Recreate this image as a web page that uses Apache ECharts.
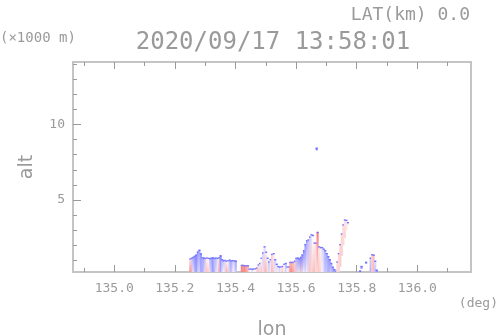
<!DOCTYPE html>
<html>
<head>
<meta charset="utf-8">
<script src="https://cdn.jsdelivr.net/npm/echarts@6/dist/echarts.min.js"></script>
<style>
  html, body { margin: 0; padding: 0; background: #fff; }
  #chart { width: 498px; height: 336px; }
</style>
</head>
<body>
<div id="chart"></div>
<script>
// ---------- DATA ----------
// vertical section columns, one every lonStep degrees starting at lonStart
var lonStart = 135.25;
var lonStep = 0.005;

// top of echo in each column (x1000 m), null = no echo
var colTop = [
	1.15, 1.19, 1.25, 1.32, 1.40, 1.60, 1.72, 1.48, 1.22, 1.20,
	1.18, 1.21, 1.19, 1.17, 1.20, 1.22, 1.18, 1.20, 1.19, 1.22,
	1.35, 1.10, 1.03, 1.05, 1.00, 1.03, 1.06, 1.02, 1.04, 1.03,
	1.00, null, null, null, 0.72, 0.72, 0.70, 0.70, 0.70, 0.48,
	0.48, 0.47, 0.48, 0.50, 0.55, 0.75, 0.85, 1.20, 1.55, 1.95,
	1.60, 1.20, 0.95, 1.10, 1.45, 1.50, 1.10, 0.80, 0.65, 0.62,
	0.62, 0.66, 0.80, 0.85, 0.62, 0.62, 0.92, 0.92, 0.92, 1.00,
	1.19, 1.20, 1.15, 1.25, 1.40, 1.70, 2.10, 2.35, 2.40, 2.60,
	2.75, 2.70, 2.20, 2.20, 2.90, 1.95, 1.90, 1.90, 1.80, 1.70,
	1.50, 1.30, 1.10, 0.85, 0.60, 0.45, 0.35, 0.95, 1.50, 2.10,
	2.80, 3.40, 3.72, 3.70, 3.55, null, null, null, null, null,
	null, null, 0.35, 0.65, null, null, 0.92, null, null, 1.20,
	1.43, 1.40, 1.00, 0.40
];
// bottom of echo in each column (x1000 m)
var colBase = [
	0, 0, 0, 0, 0, 0, 0, 0, 0, 0,
	0, 0, 0, 0, 0, 0, 0, 0, 0, 0,
	0, 0, 0, 0, 0, 0, 0, 0, 0, 0,
	0, 0, 0, 0, 0, 0, 0, 0, 0, 0,
	0, 0, 0, 0, 0, 0, 0, 0, 0, 0,
	0, 0, 0, 0, 0, 0, 0, 0, 0, 0,
	0, 0, 0, 0, 0, 0, 0, 0, 0, 0,
	0, 0, 0, 0, 0, 0, 0, 0, 0, 0,
	0, 0, 0, 0, 0, 0, 0, 0, 0, 0,
	0, 0, 0, 0, 0, 0, 0, 0, 0, 0.6,
	1.3, 2.0, 2.5, 3.0, 3.3, 0, 0, 0, 0, 0,
	0, 0, 0, 0.45, 0, 0, 0.8, 0, 0, 0,
	0, 0, 0, 0
];
// doppler value near the ground (-1 approaching/blue .. +1 receding/red)
var colLow = [
	0.9, 0.6, 0.1, -0.4, -0.6, -0.3, -0.2, -0.5, -0.6, -0.3,
	0.3, 0.5, 0.4, 0.2, -0.4, -0.6, -0.5, -0.2, 0.2, 0.6,
	-0.5, -0.3, 0.0, 0.2, 0.7, 0.5, -0.2, -0.4, -0.1, 0.1,
	-0.3, 0, 0, 0, 0.9, 0.8, 0.85, 0.7, 0.6, 0.3,
	0.2, -0.2, 0.1, 0.2, 0.4, 0.6, 0.3, 0.5, 0.2, 0.4,
	0.6, 0.3, -0.2, 0.2, 0.5, 0.4, -0.1, 0.2, 0.1, -0.2,
	0.3, 0.5, 0.2, -0.3, 0.0, 0.3, 0.9, 0.85, 0.7, 0.5,
	0.3, 0.2, 0.1, 0.3, 0.2, 0.0, -0.2, 0.1, 0.3, 0.4,
	0.3, 0.4, 0.5, 0.3, 0.2, 0.4, 0.3, 0.1, -0.2, -0.4,
	-0.3, -0.5, -0.4, -0.3, -0.5, -0.6, 0.2, 0.3, 0.3, 0.35,
	0.3, 0.25, 0.3, 0.2, 0.1, 0, 0, 0, 0, 0,
	0, 0, -0.8, -0.7, 0, 0, -0.8, 0, 0, -0.6,
	0.4, 0.5, -0.5, -0.7
];
// doppler value near the echo top
var colHigh = [
	0.2, -0.3, -0.6, -0.7, -0.8, -0.7, -0.6, -0.7, -0.5, -0.6,
	-0.3, 0.1, 0.0, -0.4, -0.6, -0.7, -0.4, -0.5, -0.2, 0.2,
	-0.8, -0.5, -0.4, -0.3, 0.1, 0.0, -0.5, -0.6, -0.4, -0.3,
	-0.6, 0, 0, 0, 0.8, 0.7, 0.75, 0.6, 0.5, 0.1,
	0.0, -0.3, -0.1, 0.0, 0.2, 0.1, -0.2, 0.0, -0.3, -0.2,
	0.1, -0.1, -0.4, -0.2, 0.3, 0.1, -0.3, -0.2, -0.2, -0.3,
	0.1, 0.2, 0.0, -0.4, -0.2, 0.1, 0.5, 0.5, 0.4, 0.3,
	-0.5, -0.6, -0.7, -0.8, -0.8, -0.8, -0.7, -0.6, -0.4, -0.3,
	-0.2, 0.0, 0.1, 0.2, 0.9, 0.2, 0.1, -0.2, -0.3, -0.5,
	-0.6, -0.6, -0.7, -0.6, -0.6, -0.7, 0.1, 0.2, 0.25, 0.3,
	0.3, 0.25, 0.2, 0.15, 0.1, 0, 0, 0, 0, 0,
	0, 0, -0.8, -0.7, 0, 0, -0.8, 0, 0, -0.3,
	0.3, 0.4, -0.2, -0.7
];

// isolated echo aloft
var spotLon = [135.667];
var spotBase = [8.28];
var spotTop = [8.46];
var spotVal = [-0.8];

// axis ticks
var lonTicks = [135.0, 135.2, 135.4, 135.6, 135.8, 136.0];
var lonMinorTicks = [134.9, 135.1, 135.3, 135.5, 135.7, 135.9, 136.1];
var altTicks = [5, 10];
var altMinorTicks = [1, 2, 3, 4, 6, 7, 8, 9, 11, 12, 13, 14];

// ---------- CHART ----------
var chart = echarts.init(document.getElementById('chart'));

var LON_MIN = 134.864, LON_MAX = 136.177;
var ALT_MIN = 0.245, ALT_MAX = 14.12;
var textGrey = '#9a9a9a';
var frameGrey = '#c4c4c4';
var tickGrey = '#9a9a9a';
var monoFont = '"DejaVu Sans Mono", "Liberation Mono", monospace';

function velColor(v) {
	var blue = [104, 104, 255], red = [246, 108, 108];
	var t = Math.min(1, Math.abs(v));
	var c = v < 0 ? blue : red;
	var r = Math.round(255 + (c[0] - 255) * t);
	var g = Math.round(255 + (c[1] - 255) * t);
	var b = Math.round(255 + (c[2] - 255) * t);
	return 'rgb(' + r + ',' + g + ',' + b + ')';
}

var columnData = [];
colTop.forEach(function (top, i) {
	if (top === null) return;
	columnData.push([lonStart + i * lonStep, colBase[i], top, colLow[i], colHigh[i]]);
});
var spotData = spotLon.map(function (lon, i) {
	return [lon, spotBase[i], spotTop[i], spotVal[i], spotVal[i]];
});

function renderColumn(params, api) {
	var lon = api.value(0);
	var pTop = api.coord([lon - lonStep / 2, api.value(2)]);
	var pBot = api.coord([lon + lonStep / 2, api.value(1)]);
	var x = pTop[0], y = pTop[1];
	var w = pBot[0] - pTop[0] + 0.6;
	var h = pBot[1] - pTop[1];
	return {
		type: 'group',
		children: [
			{
				type: 'rect',
				shape: { x: x, y: y, width: w, height: h },
				style: {
					fill: new echarts.graphic.LinearGradient(0, 0, 0, 1, [
						{ offset: 0, color: velColor(api.value(4)) },
						{ offset: 1, color: velColor(api.value(3)) }
					])
				}
			},
			{
				type: 'rect',
				shape: { x: x, y: y, width: w, height: Math.min(1.4, h) },
				style: { fill: '#7474ff' }
			}
		]
	};
}

function xAxisBase(extra) {
	return Object.assign({
		type: 'value',
		min: LON_MIN,
		max: LON_MAX,
		splitLine: { show: false },
		axisLine: { show: true, lineStyle: { color: frameGrey, width: 2 } }
	}, extra);
}

function yAxisBase(extra) {
	return Object.assign({
		type: 'value',
		min: ALT_MIN,
		max: ALT_MAX,
		splitLine: { show: false },
		axisLine: { show: true, lineStyle: { color: frameGrey, width: 2 } }
	}, extra);
}

var option = {
	animation: false,
	backgroundColor: '#fff',
	grid: { left: 73, right: 27, top: 62, bottom: 64, containLabel: false, outerBoundsMode: 'none' },
	xAxis: [
		xAxisBase({
			position: 'bottom',
			name: 'lon',
			nameLocation: 'middle',
			nameGap: 49,
			nameTextStyle: { color: textGrey, fontSize: 19, fontFamily: 'DejaVu Sans' },
			axisTick: { show: true, inside: true, length: 7, customValues: lonTicks, lineStyle: { color: tickGrey } },
			axisLabel: {
				customValues: lonTicks, margin: 10, color: textGrey, fontSize: 13, fontFamily: monoFont,
				formatter: function (v) { return v.toFixed(1); }
			}
		}),
		xAxisBase({
			position: 'bottom',
			axisTick: { show: true, inside: true, length: 4, customValues: lonMinorTicks, lineStyle: { color: tickGrey } },
			axisLabel: { show: false }
		}),
		xAxisBase({
			position: 'top',
			axisTick: { show: true, inside: true, length: 7, customValues: lonTicks, lineStyle: { color: tickGrey } },
			axisLabel: { show: false }
		}),
		xAxisBase({
			position: 'top',
			axisTick: { show: true, inside: true, length: 4, customValues: lonMinorTicks, lineStyle: { color: tickGrey } },
			axisLabel: { show: false }
		})
	],
	yAxis: [
		yAxisBase({
			position: 'left',
			name: 'alt',
			nameLocation: 'middle',
			nameGap: 36,
			nameRotate: 90,
			nameTextStyle: { color: textGrey, fontSize: 19, fontFamily: 'DejaVu Sans' },
			axisTick: { show: true, inside: true, length: 8, customValues: altTicks, lineStyle: { color: tickGrey } },
			axisLabel: { customValues: altTicks, margin: 8, color: textGrey, fontSize: 13, fontFamily: monoFont }
		}),
		yAxisBase({
			position: 'left',
			axisTick: { show: true, inside: true, length: 4, customValues: altMinorTicks, lineStyle: { color: tickGrey } },
			axisLabel: { show: false }
		}),
		yAxisBase({
			position: 'right',
			axisTick: { show: false },
			axisLabel: { show: false }
		})
	],
	title: {
		text: '2020/09/17 13:58:01',
		left: 268,
		top: 26,
		textAlign: 'center',
		textStyle: { color: textGrey, fontSize: 24, fontWeight: 'normal', fontFamily: monoFont }
	},
	graphic: [
		{
			type: 'text', right: 28, top: 6,
			style: { text: 'LAT(km) 0.0', fill: textGrey, font: '18px ' + monoFont }
		},
		{
			type: 'text', left: 0, top: 31,
			style: { text: '(×1000 m)', fill: textGrey, font: '14px ' + monoFont }
		},
		{
			type: 'text', right: 0, top: 297,
			style: { text: '(deg)', fill: textGrey, font: '13px ' + monoFont }
		}
	],
	series: [
		{
			type: 'custom',
			xAxisIndex: 0,
			yAxisIndex: 0,
			clip: true,
			renderItem: renderColumn,
			data: columnData
		},
		{
			type: 'custom',
			xAxisIndex: 0,
			yAxisIndex: 0,
			clip: true,
			renderItem: renderColumn,
			data: spotData
		}
	]
};

chart.setOption(option);
</script>
</body>
</html>
